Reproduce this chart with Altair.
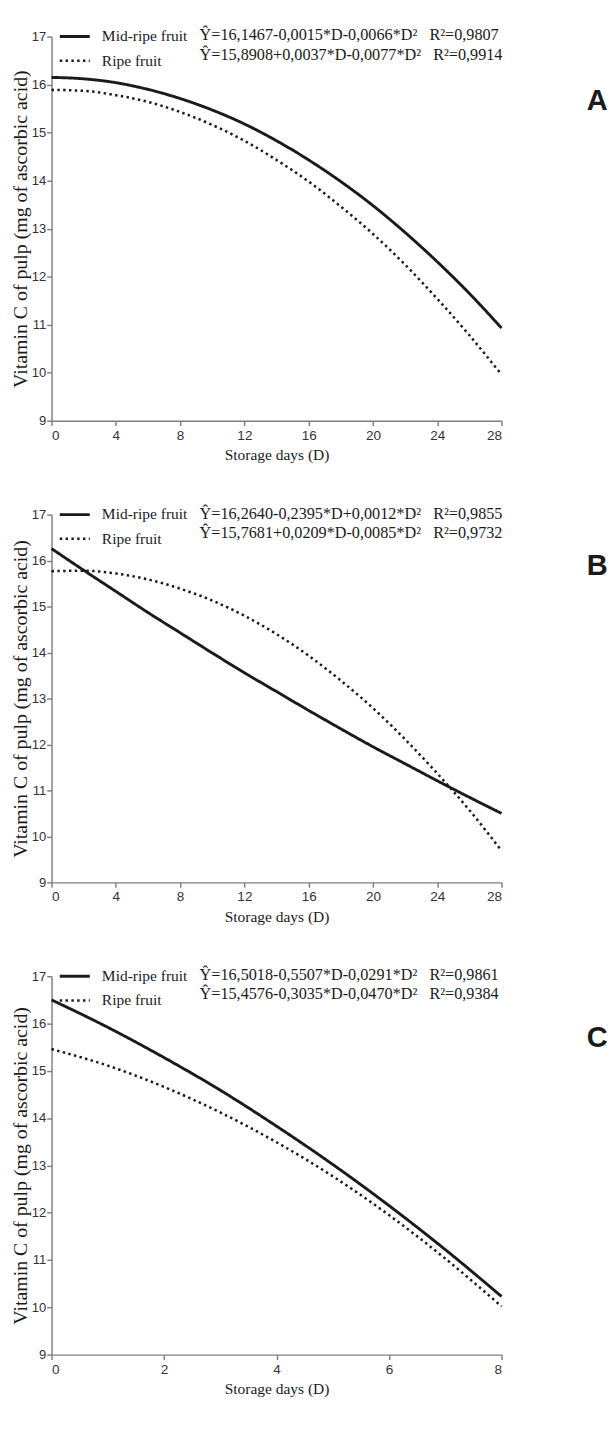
import altair as alt
import pandas as pd

# ---------------- data ----------------
series = ["Mid-ripe fruit", "Ripe fruit"]

days_ab = [0, 2, 4, 6, 8, 10, 12, 14, 16, 18, 20, 22, 24, 26, 28]
a_mid = [16.15, 16.12, 16.04, 15.90, 15.71, 15.47, 15.18, 14.83, 14.43, 13.98, 13.48, 12.92, 12.31, 11.65, 10.93]
a_ripe = [15.89, 15.87, 15.78, 15.64, 15.43, 15.16, 14.83, 14.43, 13.98, 13.46, 12.89, 12.25, 11.54, 10.78, 9.96]
b_mid = [16.26, 15.79, 15.33, 14.87, 14.43, 13.99, 13.56, 13.15, 12.74, 12.34, 11.95, 11.58, 11.21, 10.85, 10.50]
b_ripe = [15.77, 15.78, 15.72, 15.59, 15.39, 15.13, 14.80, 14.40, 13.93, 13.39, 12.79, 12.11, 11.37, 10.57, 9.69]

days_c = [0, 1, 2, 3, 4, 5, 6, 7, 8]
c_mid = [16.50, 15.92, 15.28, 14.59, 13.83, 13.02, 12.15, 11.22, 10.23]
c_ripe = [15.46, 15.11, 14.66, 14.12, 13.49, 12.77, 11.95, 11.03, 10.02]

GAP = "\u00a0\u00a0\u00a0"
eq_a = ["Ŷ=16,1467-0,0015*D-0,0066*D²" + GAP + "R²=0,9807",
        "Ŷ=15,8908+0,0037*D-0,0077*D²" + GAP + "R²=0,9914"]
eq_b = ["Ŷ=16,2640-0,2395*D+0,0012*D²" + GAP + "R²=0,9855",
        "Ŷ=15,7681+0,0209*D-0,0085*D²" + GAP + "R²=0,9732"]
eq_c = ["Ŷ=16,5018-0,5507*D-0,0291*D²" + GAP + "R²=0,9861",
        "Ŷ=15,4576-0,3035*D-0,0470*D²" + GAP + "R²=0,9384"]

letters = ["A", "B", "C"]
ticks_ab = [0, 4, 8, 12, 16, 20, 24, 28]
ticks_c = [0, 2, 4, 6, 8]
y_ticks = [9, 10, 11, 12, 13, 14, 15, 16, 17]

X_TITLE = "Storage days (D)"
Y_TITLE = "Vitamin C of pulp (mg of ascorbic acid)"

W = 465
INK = "#1a1a1a"
SERIF = "Liberation Serif"
SANS = "Liberation Sans"


def panel(days, mid, ripe, eqs, letter, xmax, xticks, letter_y, h):
    df = pd.DataFrame({
        "D": days + days,
        "C": mid + ripe,
        "S": [series[0]] * len(days) + [series[1]] * len(days),
    })
    lines = alt.Chart(df).mark_line(interpolate="monotone", color=INK).encode(
        x=alt.X("D:Q", scale=alt.Scale(domain=[0, xmax], nice=False, zero=False),
                axis=alt.Axis(values=xticks, title=X_TITLE, format="d")),
        y=alt.Y("C:Q", scale=alt.Scale(domain=[9, 17], nice=False, zero=False),
                axis=alt.Axis(values=y_ticks, title=Y_TITLE, format="d")),
        strokeDash=alt.StrokeDash(
            "S:N",
            scale=alt.Scale(domain=series, range=[[1, 0], [2.5, 3.5]]),
            legend=alt.Legend(
                orient="none", legendX=7, legendY=-17, title=None,
                symbolType="stroke", symbolSize=961, symbolStrokeWidth=3,
                symbolStrokeColor=INK, labelFont=SERIF, labelFontSize=16,
                labelColor=INK, labelOffset=11, rowPadding=-14, padding=0,
            ),
        ),
        strokeWidth=alt.StrokeWidth(
            "S:N", scale=alt.Scale(domain=series, range=[3, 2.6]), legend=None
        ),
    )
    eq1 = alt.Chart(pd.DataFrame({"t": [eqs[0]]})).mark_text(
        align="left", baseline="middle", font=SERIF, fontSize=16.75, color=INK
    ).encode(text="t:N", x=alt.value(153), y=alt.value(-1))
    eq2 = alt.Chart(pd.DataFrame({"t": [eqs[1]]})).mark_text(
        align="left", baseline="middle", font=SERIF, fontSize=16.75, color=INK
    ).encode(text="t:N", x=alt.value(153), y=alt.value(19))
    lab = alt.Chart(pd.DataFrame({"t": [letter]})).mark_text(
        align="center", baseline="middle", font=SANS, fontSize=30,
        fontWeight="bold", color=INK
    ).encode(text="t:N", x=alt.value(564), y=alt.value(letter_y))
    return alt.layer(lines, eq1, eq2, lab).properties(width=W, height=h)


pa = panel(days_ab, a_mid, a_ripe, eq_a, letters[0], 28, ticks_ab, 67, 397)
pb = panel(days_ab, b_mid, b_ripe, eq_b, letters[1], 28, ticks_ab, 53, 380)
pc = panel(days_c, c_mid, c_ripe, eq_c, letters[2], 8, ticks_c, 64, 391)

chart = alt.vconcat(pa, pb, pc, spacing=97, bounds="flush").resolve_scale(
    strokeDash="independent", strokeWidth="independent"
).resolve_legend(strokeDash="independent").properties(
    padding={"left": 2, "top": -11, "right": 0, "bottom": 0}
).configure_view(stroke=None).configure_axis(
    grid=False,
    domainColor="#7f7f7f", domainWidth=1.5,
    tickColor="#7f7f7f", tickWidth=1.5, tickSize=5,
    labelFont=SANS, labelFontSize=14, labelColor="#333333", labelPadding=3,
    titleFont=SERIF, titleFontWeight="normal", titleColor=INK,
).configure_axisX(titlePadding=5, titleFontSize=16).configure_axisY(
    titlePadding=1, labelPadding=1, labelFontSize=13.5, titleFontSize=20.5
)

chart.save("out.html", embed_options={"renderer": "svg", "actions": False})
